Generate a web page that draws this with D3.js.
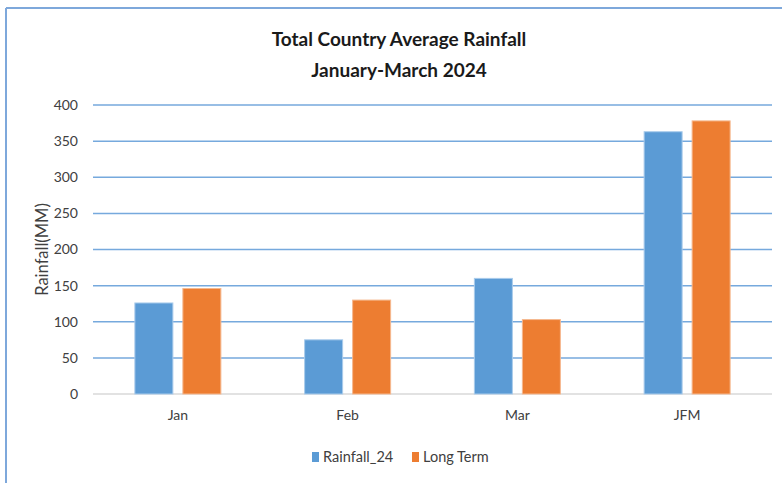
<!DOCTYPE html>
<html>
<head>
<meta charset="utf-8">
<script src="https://cdn.jsdelivr.net/npm/d3@7"></script>
<style>
  body { margin: 0; background: #fff; }
  svg { display: block; font-family: Lato, "Open Sans", sans-serif; }
</style>
</head>
<body>
<div id="container"></div>
<script>
var width = 782;
var height = 483;
var margin = {left: 93, right: 10, top: 105, bottom: 89};

var categories = ["Jan", "Feb", "Mar", "JFM"];
var seriesNames = ["Rainfall_24", "Long Term"];
var rainfall24 = [126, 75, 160, 363];
var longTerm = [146, 130, 103, 378];
var yTicks = [0, 50, 100, 150, 200, 250, 300, 350, 400];
var colors = ["#5b9bd5", "#ed7d31"];

var data = categories.map(function(c, i) {
    return {month: c, values: [rainfall24[i], longTerm[i]]};
});

var svg = d3.select('#container').append('svg')
    .attr('width', width).attr('height', height);

// frame lines (top and left edges of the original picture)
svg.append('line')
    .attr('x1', 6).attr('x2', width).attr('y1', 8).attr('y2', 8)
    .attr('stroke', '#7ea8db').attr('stroke-width', 2);
svg.append('line')
    .attr('x1', 6).attr('x2', 6).attr('y1', 8).attr('y2', height)
    .attr('stroke', '#7ea8db').attr('stroke-width', 2);

var xScale = d3.scaleBand().domain(categories)
    .range([margin.left, width - margin.right]);
var yScale = d3.scaleLinear().domain([0, 400])
    .range([height - margin.bottom, margin.top]);

var barWidth = 38, barGap = 10;

// gridlines
svg.append('g')
    .selectAll('line')
    .data(yTicks.filter(function(d) { return d > 0; }))
    .enter().append('line')
    .attr('x1', margin.left).attr('x2', width - margin.right)
    .attr('y1', function(d) { return yScale(d); })
    .attr('y2', function(d) { return yScale(d); })
    .attr('stroke', '#76a9dd').attr('stroke-width', 1.5);

// baseline
svg.append('line')
    .attr('x1', margin.left).attr('x2', width - margin.right)
    .attr('y1', yScale(0)).attr('y2', yScale(0))
    .attr('stroke', '#d9d9d9').attr('stroke-width', 1.5);

// y axis labels
var yAxis = d3.axisLeft(yScale).tickValues(yTicks).tickSize(0).tickPadding(15);
svg.append('g')
    .attr('transform', 'translate(' + margin.left + ',0)')
    .call(yAxis)
    .call(function(g) { g.select('.domain').remove(); })
    .selectAll('text')
    .attr('font-family', 'Lato, sans-serif')
    .attr('font-size', 14)
    .attr('fill', '#404040');

// x axis labels
var xAxis = d3.axisBottom(xScale).tickSize(0).tickPadding(16);
svg.append('g')
    .attr('transform', 'translate(0,' + yScale(0) + ')')
    .call(xAxis)
    .call(function(g) { g.select('.domain').remove(); })
    .selectAll('text')
    .attr('font-family', 'Lato, sans-serif')
    .attr('font-size', 14)
    .attr('fill', '#404040');

// bars
var groups = svg.append('g').selectAll('g')
    .data(data)
    .enter().append('g')
    .attr('transform', function(d) {
        return 'translate(' + (xScale(d.month) + xScale.bandwidth() / 2 - (barWidth * 2 + barGap) / 2) + ',0)';
    });

groups.selectAll('rect')
    .data(function(d) { return d.values; })
    .enter().append('rect')
    .attr('x', function(d, i) { return i * (barWidth + barGap); })
    .attr('y', function(d) { return yScale(d); })
    .attr('width', barWidth)
    .attr('height', function(d) { return yScale(0) - yScale(d); })
    .attr('fill', function(d, i) { return colors[i]; })
    .attr('stroke', function(d, i) { return i === 0 ? '#a9cbeb' : '#f5b88f'; })
    .attr('stroke-width', 1);

// y axis title
svg.append('text')
    .attr('transform', 'translate(48,' + ((yScale(0) + yScale(400)) / 2) + ') rotate(-90)')
    .attr('text-anchor', 'middle')
    .attr('font-size', 16.5)
    .attr('fill', '#404040')
    .text('Rainfall(MM)');

// title
svg.append('text')
    .attr('x', 399).attr('y', 46)
    .attr('text-anchor', 'middle')
    .attr('font-size', 19).attr('font-weight', 'bold')
    .attr('fill', '#1a1a1a')
    .text('Total Country Average Rainfall');
svg.append('text')
    .attr('x', 399).attr('y', 77)
    .attr('text-anchor', 'middle')
    .attr('font-size', 19).attr('font-weight', 'bold')
    .attr('fill', '#1a1a1a')
    .text('January-March 2024');

// legend
var legendX = [312, 412];
var legend = svg.append('g').selectAll('g')
    .data(seriesNames)
    .enter().append('g')
    .attr('transform', function(d, i) { return 'translate(' + legendX[i] + ',452)'; });
legend.append('rect')
    .attr('width', 7).attr('height', 10)
    .attr('fill', function(d, i) { return colors[i]; });
legend.append('text')
    .attr('x', 11).attr('y', 10)
    .attr('font-size', 14.5)
    .attr('fill', '#404040')
    .text(function(d) { return d; });
</script>
</body>
</html>
